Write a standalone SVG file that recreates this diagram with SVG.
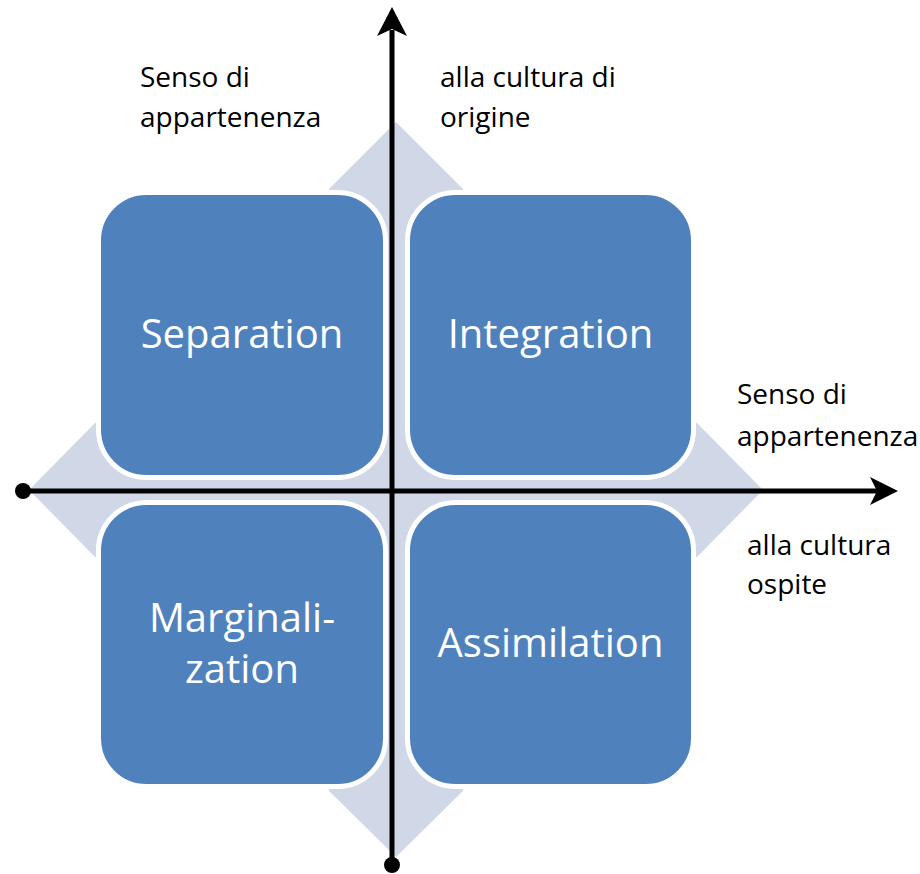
<svg xmlns="http://www.w3.org/2000/svg" width="920" height="874" viewBox="0 0 920 874">
<style>
.box{fill:#4F81BD;stroke:#FFFFFF;stroke-width:5}
.bt{font-family:"Open Sans","Liberation Sans",sans-serif;font-size:40px;fill:#FFFFFF;text-anchor:middle}
.lb{font-family:"Open Sans","Liberation Sans",sans-serif;font-size:28px;fill:#000000}
.ax{stroke:#000000;stroke-width:5;fill:none}
</style>
<rect width="920" height="874" fill="#FFFFFF"/>
<g id="background">
<polygon fill="#D0D8E8" points="396,122 463,189 463,423 697,423 763,490 697,557 463,557 463,791 396,857 329,791 329,557 95,557 29,490 95,423 329,423 329,189"/>
</g>
<g id="separation">
<rect class="box" x="98.5" y="192.5" width="287" height="285" rx="48"/>
<text class="bt" x="242" y="348">Separation</text>
</g>
<g id="integration">
<rect class="box" x="407.5" y="192.5" width="286" height="285" rx="48"/>
<text class="bt" x="550.5" y="348">Integration</text>
</g>
<g id="marginalization">
<rect class="box" x="98.5" y="502.5" width="287" height="284" rx="48"/>
<text class="bt" x="242" y="632">Marginali-</text>
<text class="bt" x="242" y="683">zation</text>
</g>
<g id="assimilation">
<rect class="box" x="407.5" y="502.5" width="286" height="284" rx="48"/>
<text class="bt" x="550.5" y="657">Assimilation</text>
</g>
<g id="connectors">
<line class="ax" x1="392" y1="865" x2="392" y2="30"/>
<polygon points="392,7 407,36 392,29 377,36" fill="#000000"/>
<circle cx="392" cy="865" r="8" fill="#000000"/>
<line class="ax" x1="23" y1="491" x2="877" y2="491"/>
<polygon points="898,491 870,477 877,491 870,505" fill="#000000"/>
<circle cx="23" cy="491" r="8" fill="#000000"/>
</g>
<g id="labels">
<text class="lb" x="140" y="87">Senso di</text>
<text class="lb" x="140" y="127">appartenenza</text>
<text class="lb" x="440" y="87">alla cultura di</text>
<text class="lb" x="440" y="127">origine</text>
<text class="lb" x="737" y="404">Senso di</text>
<text class="lb" x="737" y="446">appartenenza</text>
<text class="lb" x="747" y="555">alla cultura</text>
<text class="lb" x="747" y="594">ospite</text>
</g>
</svg>
